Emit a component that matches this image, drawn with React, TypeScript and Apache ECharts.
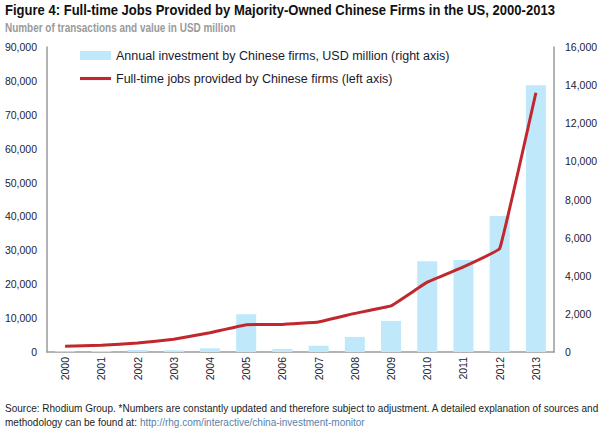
import React, { useEffect, useRef } from "react";
import * as echarts from "echarts";

const years = ["2000","2001","2002","2003","2004","2005","2006","2007","2008","2009","2010","2011","2012","2013"];
const investment = [40, 50, 105, 90, 195, 1980, 160, 330, 790, 1630, 4760, 4830, 7140, 14000];
const jobs = [1700, 2000, 2650, 3750, 5700, 8060, 8150, 8850, 11400, 13600, 20600, 25100, 30500, 76500];
const leftTicks = { min: 0, max: 90000, interval: 10000 };
const rightTicks = { min: 0, max: 16000, interval: 2000 };

const FONT = "'Liberation Sans', Arial, sans-serif";
const fmt = (v: number) => v.toLocaleString("en-US");

export default function App() {
  const ref = useRef<HTMLDivElement>(null);
  useEffect(() => {
    if (!ref.current) return;
    const chart = echarts.init(ref.current, null, { renderer: "svg" });
    chart.setOption({
      animation: false,
      backgroundColor: "#ffffff",
      textStyle: { fontFamily: FONT },
      legend: {
        orient: "vertical",
        left: 75,
        top: 44,
        itemWidth: 31,
        itemHeight: 9,
        itemGap: 10,
        textStyle: { fontFamily: FONT, fontSize: 12.5, color: "#1a1a2e" },
        data: [
          { name: "Annual investment by Chinese firms, USD million (right axis)", icon: "rect" },
          { name: "Full-time jobs provided by Chinese firms (left axis)", icon: "path://M0,0H30V3H0Z" },
        ],
      },
      grid: { left: 47, right: 53, top: 47, bottom: 83 },
      xAxis: {
        type: "category",
        data: years,
        axisLine: { lineStyle: { color: "#9a9a9a", width: 1.5 } },
        axisTick: { show: false },
        axisLabel: { rotate: 90, fontFamily: FONT, fontSize: 10.5, color: "#222233", margin: 5 },
      },
      yAxis: [
        {
          type: "value",
          ...leftTicks,
          axisLine: { show: true, lineStyle: { color: "#9a9a9a", width: 1.5 } },
          axisTick: { show: false },
          splitLine: { show: false },
          axisLabel: { formatter: fmt, fontFamily: FONT, fontSize: 10.5, color: "#222233", margin: 10 },
        },
        {
          type: "value",
          ...rightTicks,
          position: "right",
          axisLine: { show: true, lineStyle: { color: "#9a9a9a", width: 1.5 } },
          axisTick: { show: false },
          splitLine: { show: false },
          axisLabel: { formatter: fmt, fontFamily: FONT, fontSize: 10.5, color: "#222233", margin: 11 },
        },
      ],
      series: [
        {
          name: "Annual investment by Chinese firms, USD million (right axis)",
          type: "bar",
          yAxisIndex: 1,
          data: investment,
          barWidth: 20,
          itemStyle: { color: "#bfe9fb" },
        },
        {
          name: "Full-time jobs provided by Chinese firms (left axis)",
          type: "line",
          yAxisIndex: 0,
          data: jobs,
          symbol: "none",
          smooth: 0.05,
          lineStyle: { color: "#c1272d", width: 3 },
          itemStyle: { color: "#c1272d" },
        },
      ],
      graphic: [
        {
          type: "text",
          x: 5,
          y: 3,
          scaleX: 0.9,
          style: {
            text: "Figure 4: Full-time Jobs Provided by Majority-Owned Chinese Firms in the US, 2000-2013",
            fontFamily: FONT,
            fontSize: 14.5,
            fontWeight: "bold",
            fill: "#111111",
            verticalAlign: "top",
          },
        },
        {
          type: "text",
          x: 5,
          y: 22,
          scaleX: 0.83,
          style: {
            text: "Number of transactions and value in USD million",
            fontFamily: FONT,
            fontSize: 12,
            fontWeight: "bold",
            fill: "#9a9a9a",
            verticalAlign: "top",
          },
        },
        {
          type: "text",
          x: 5,
          y: 401,
          scaleX: 0.955,
          style: {
            text: "Source: Rhodium Group. *Numbers are constantly updated and therefore subject to adjustment. A detailed explanation of sources and\nmethodology can be found at: {u|http://rhg.com/interactive/china-investment-monitor}",
            fontFamily: FONT,
            fontSize: 10.5,
            lineHeight: 14,
            fill: "#222222",
            verticalAlign: "top",
            rich: { u: { fontFamily: FONT, fontSize: 10.5, fill: "#5a7fa8", color: "#5a7fa8" } },
          },
        },
      ],
    });
    return () => chart.dispose();
  }, []);
  return <div ref={ref} style={{ position: "fixed", left: 0, top: 0, width: 607, height: 435 }} />;
}
